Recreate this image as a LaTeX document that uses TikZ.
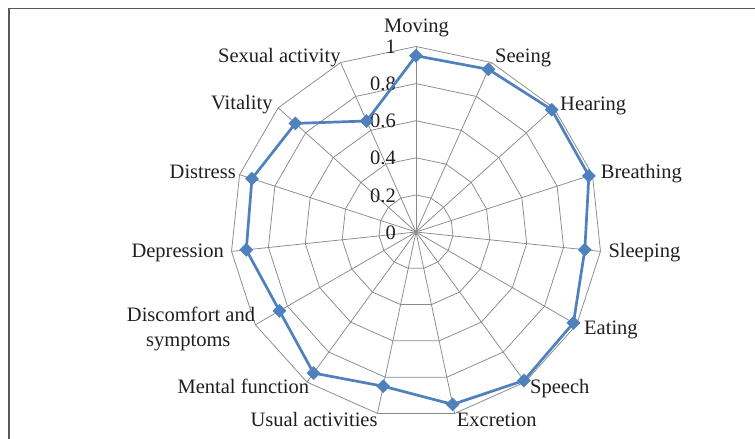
\documentclass[tikz,border=0pt]{standalone}
\usepackage{fontspec}
\setmainfont{Liberation Serif}
\usetikzlibrary{shapes.geometric}
\definecolor{serie}{HTML}{4F81BD}
\definecolor{gridc}{HTML}{8A8A8A}
\definecolor{framec}{HTML}{5A5A5A}
\definecolor{txt}{HTML}{231F20}
\tikzset{
  gridline/.style={draw=gridc, line width=0.75pt},
  serieline/.style={draw=serie, line width=2.7pt, line join=round},
  marker/.style={diamond, fill=serie, inner sep=0pt, minimum width=14pt, minimum height=14pt},
  lab/.style={font=\fontsize{20.5}{24}\selectfont, text=txt, inner sep=0pt, anchor=base west},
  tick/.style={font=\fontsize{20.5}{24}\selectfont, text=txt, inner sep=0pt, anchor=east},
}
\begin{document}
\begin{tikzpicture}[x=1pt,y=-1pt]
\useasboundingbox (0,0) rectangle (755,439);
\fill[white] (0,0) rectangle (755,439);
\draw[framec, line width=1.4pt] (9,450) -- (9,8.7) -- (770,8.7);
\coordinate (c) at (416,232);
% rings
\foreach \v in {0.2,0.4,0.6,0.8,1.0}{
  \draw[gridline] plot[samples=16, domain=0:15] ({416+185.5*\v*cos(90-24*\x)},{232-185.5*\v*sin(90-24*\x)}) -- cycle;
}
% spokes
\foreach \k in {0,...,14}{
  \coordinate (o\k) at ({416+185.5*cos(90-24*\k)},{232-185.5*sin(90-24*\k)});
  \draw[gridline] (c) -- (o\k);
}
% tick labels
\foreach \v/\t in {0/0,0.2/0.2,0.4/0.4,0.6/0.6,0.8/0.8,1/1}{
  \node[tick] (t\v) at (396,{232.5-185.5*\v}) {\t};
}
% data
\foreach \v [count=\i from 0] in {0.95,0.96,0.985,0.98,0.915,0.98,0.99,0.95,0.85,0.94,0.85,0.92,0.93,0.875,0.655}{
  \coordinate (p\i) at ({416+185.5*\v*cos(90-24*\i)},{232-185.5*\v*sin(90-24*\i)});
}
\draw[serieline] (p0) -- (p1) -- (p2) -- (p3) -- (p4) -- (p5) -- (p6) -- (p7) -- (p8) -- (p9) -- (p10) -- (p11) -- (p12) -- (p13) -- (p14) -- cycle;
\foreach \i in {0,...,14}{
  \node[marker] (m\i) at (p\i) {};
}
% category labels
\node[lab, anchor=base] (l0) at (416.5,32.3) {Moving};
\node[lab] (l1) at (495,62.3) {Seeing};
\node[lab] (l2) at (560,110) {Hearing};
\node[lab] (l3) at (600.7,178.3) {Breathing};
\node[lab] (l4) at (608.3,257.7) {Sleeping};
\node[lab] (l5) at (584,334.3) {Eating};
\node[lab] (l6) at (530,393.3) {Speech};
\node[lab] (l7) at (456.7,426.7) {Excretion};
\node[lab, anchor=base east] (l8) at (377.7,426.7) {Usual activities};
\node[lab, anchor=base east] (l9) at (309.3,393.3) {Mental function};
\node[lab, anchor=base] (l10a) at (191,321.7) {Discomfort and};
\node[lab, anchor=base] (l10b) at (188.3,346.7) {symptoms};
\node[lab, anchor=base east] (l11) at (224,257.3) {Depression};
\node[lab, anchor=base east] (l12) at (236,178.3) {Distress};
\node[lab, anchor=base east] (l13) at (272.7,109) {Vitality};
\node[lab, anchor=base east] (l14) at (340.7,62.3) {Sexual activity};
\end{tikzpicture}
\end{document}
